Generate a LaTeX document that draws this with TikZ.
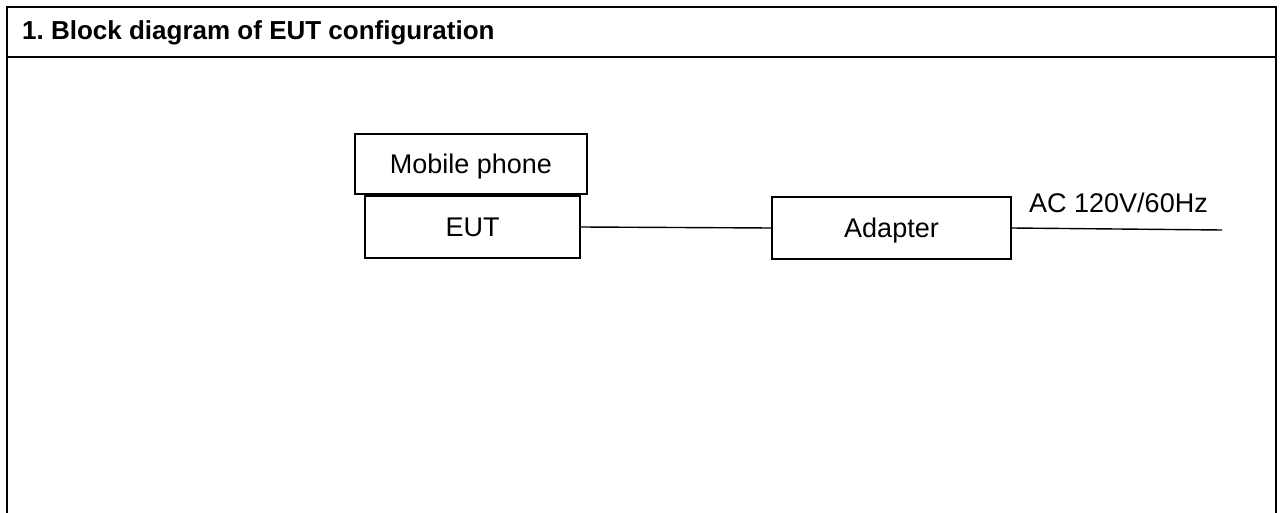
\documentclass[tikz,border=0pt]{standalone}
\usepackage{fontspec}
\setmainfont{Liberation Sans}
\frenchspacing
\begin{document}
\begin{tikzpicture}[x=1pt,y=-1pt,
  blk/.style={draw=black,line width=1.4pt,minimum width=#1,inner sep=0pt,text height=19.5pt,text depth=0pt,font=\fontsize{27}{30}\selectfont},
  wire/.style={draw=black,line width=1.4pt},
  frame/.style={draw=black,line width=2.6pt}]
\useasboundingbox (0,0) rectangle (1283,513);
\fill[white] (0,0) rectangle (1283,513);
\draw[frame] (7,513) -- (7,7) -- (1276,7) -- (1276,513);
\draw[frame] (7,57) -- (1276,57);
\node[anchor=base west,font=\bfseries\fontsize{26}{30}\selectfont,inner sep=0pt] (title) at (22,40) {1. Block diagram of EUT configuration};
\node[blk=232pt,minimum height=60pt] (phone) at (471,164) {Mobile phone};
\node[blk=215pt,minimum height=62pt,line width=2pt] (eut) at (472.5,227) {EUT};
\node[blk=239pt,minimum height=62pt] (adapter) at (891.5,228) {Adapter};
\coordinate (mains) at (1222,230);
\draw[wire] (eut.east) -- (adapter.west);
\draw[wire] (adapter.east) -- (mains);
\node[anchor=base west,inner sep=0pt,font=\fontsize{27}{30}\selectfont] (ac) at (1029,213) {AC 120V/60Hz};
\end{tikzpicture}
\end{document}
